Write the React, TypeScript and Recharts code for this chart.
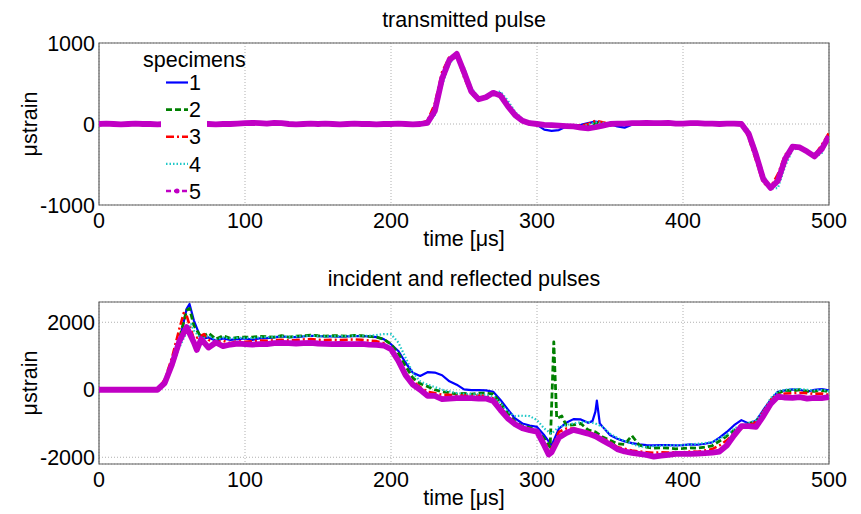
import React from 'react';
import { LineChart, Line, XAxis, YAxis, CartesianGrid, ReferenceArea } from 'recharts';

// sample times [us], 5 us steps
const timeGrid = [
  0, 5, 10, 15, 20, 25, 30, 35, 40, 45,
  50, 55, 60, 65, 70, 75, 80, 85, 90, 95,
  100, 105, 110, 115, 120, 125, 130, 135, 140, 145,
  150, 155, 160, 165, 170, 175, 180, 185, 190, 195,
  200, 205, 210, 215, 220, 225, 230, 235, 240, 245,
  250, 255, 260, 265, 270, 275, 280, 285, 290, 295,
  300, 305, 310, 315, 320, 325, 330, 335, 340, 345,
  350, 355, 360, 365, 370, 375, 380, 385, 390, 395,
  400, 405, 410, 415, 420, 425, 430, 435, 440, 445,
  450, 455, 460, 465, 470, 475, 480, 485, 490, 495,
  500,
];

const specimens = ['1', '2', '3', '4', '5'];
const xTicks = [0, 100, 200, 300, 400, 500];
const topYTicks = [-1000, 0, 1000];
const bottomYTicks = [-2000, 0, 2000];

// transmitted pulse, one array per specimen
const trans1 = [
  0, 0, 5, 0, -5, 0, 0, 5, 0, 0,
  0, 0, 5, 0, 0, -5, 0, 5, 0, 0,
  5, 10, 10, 5, 10, 5, 0, 0, 5, 0,
  0, 0, 5, 0, 0, 0, 5, 0, 0, 5,
  0, 0, 0, 0, 0, 10, 120, 520, 770, 860,
  680, 420, 310, 325, 380, 380, 240, 120, 40, 5,
  -10, -70, -85, -75, -30, -20, -10, 10, 30, 15,
  0, -30, -45, -10, 5, 10, 10, 10, 10, 5,
  5, 5, 10, 5, 5, 5, 0, 0, 0, -130,
  -400, -700, -800, -680, -420, -280, -290, -340, -400, -320,
  -150,
];
const trans2 = [
  0, 0, 0, 5, 0, 0, -5, 0, 0, 0,
  0, 5, 0, 0, 0, 0, 0, 5, 0, 0,
  5, 10, 5, 5, 10, 5, 0, 0, 5, 0,
  0, 5, 0, 0, 0, 0, 0, 5, 0, 0,
  0, 0, 0, 0, 0, 20, 170, 570, 800, 860,
  660, 410, 310, 330, 390, 370, 230, 110, 40, 10,
  0, -10, -20, -25, -30, -35, -40, -20, 10, 10,
  0, 5, 5, 10, 10, 10, 10, 10, 10, 5,
  5, 5, 10, 5, 5, 5, 0, 0, 0, -140,
  -410, -700, -790, -680, -420, -280, -290, -340, -400, -300,
  -140,
];
const trans3 = [
  0, 5, 0, 0, 0, 0, 5, 0, 0, 0,
  0, 0, 0, 5, 0, 0, 0, 0, 5, 0,
  10, 10, 5, 10, 10, 5, 0, 0, 0, 5,
  0, 0, 0, 5, 0, 0, 0, 0, 0, 5,
  0, 0, 5, 0, 10, 40, 250, 640, 830, 855,
  580, 370, 300, 340, 400, 330, 200, 90, 30, 5,
  0, -10, -20, -25, -20, -20, -20, 0, 40, 20,
  5, 5, 10, 10, 10, 10, 10, 10, 15, 5,
  5, 10, 10, 5, 5, 5, 5, 10, 0, -170,
  -450, -730, -780, -620, -380, -280, -300, -350, -390, -260,
  -110,
];
const trans4 = [
  0, 0, 5, 0, 0, 0, 0, 0, 5, 0,
  0, 0, 0, 0, 5, 0, 0, 0, 0, 0,
  5, 10, 5, 10, 5, 5, 0, 0, 0, 0,
  0, 0, 5, 0, 0, 0, 0, 0, 0, 0,
  0, 0, 0, 0, 0, 5, 110, 480, 740, 860,
  700, 450, 320, 330, 390, 400, 290, 150, 60, 10,
  0, -10, -20, -25, -30, -35, -30, -10, 20, 15,
  5, 5, 10, 10, 10, 10, 10, 10, 10, 5,
  5, 5, 10, 5, 5, 5, 0, 0, 10, -80,
  -320, -620, -800, -790, -520, -320, -290, -350, -420, -360,
  -170,
];
const trans5 = [
  0, 5, 0, -5, 0, 5, 0, 0, -5, 0,
  0, 5, 0, 0, 5, 0, -5, 0, 0, 5,
  10, 15, 10, 5, 15, 10, 0, -5, 0, 5,
  0, 5, 0, -5, 0, 5, 0, 0, -5, 0,
  0, 5, 0, -5, 0, 15, 160, 560, 790, 865,
  640, 400, 305, 330, 385, 350, 220, 110, 40, 10,
  0, -10, -15, -20, -25, -30, -45, -55, -40, -20,
  0, 5, 5, 10, 10, 15, 10, 10, 15, 5,
  5, 10, 10, 5, 5, 0, 5, 5, 0, -120,
  -380, -680, -790, -700, -430, -280, -290, -340, -400, -310,
  -150,
];

// incident and reflected pulses
const inc1 = [
  0, 0, 0, 0, 0, 0, 0, 0, 0, 200,
  700, 1400, 2400, 2050, 1500, 1550, 1450, 1520, 1480, 1500,
  1520, 1480, 1520, 1530, 1550, 1580, 1560, 1560, 1580, 1600,
  1590, 1580, 1580, 1570, 1580, 1590, 1590, 1580, 1560, 1500,
  1350, 1150, 800, 500, 410, 520, 510, 430, 250, 150,
  10, -10, -10, -20, -60, -300, -580, -850, -1000, -1060,
  -1100, -1350, -1650, -1150, -980, -870, -880, -980, -650, -1100,
  -1340, -1450, -1530, -1580, -1620, -1640, -1650, -1640, -1640, -1650,
  -1640, -1620, -1630, -1600, -1560, -1420, -1250, -1050, -900, -1000,
  -920, -600, -300, -60, -20, 10, 0, -60, 0, 20,
  -20,
];
const inc1ExtraT = [62, 338, 341, 343];
const inc1ExtraV = [2540, -930, -320, -1000];

const inc2 = [
  0, 0, 0, 0, 0, 0, 0, 0, 0, 220,
  800, 1500, 2350, 1900, 1550, 1680, 1500, 1600, 1520, 1550,
  1560, 1560, 1580, 1570, 1560, 1600, 1560, 1590, 1600, 1620,
  1600, 1590, 1600, 1600, 1590, 1610, 1600, 1580, 1560, 1500,
  1350, 1080, 700, 350, 180, 100, 0, -60, -90, -130,
  -110, -130, -100, -100, -120, -400, -700, -950, -1080, -1120,
  -1200, -1450, -500, -820, -1050, -1040, -1000, -1190, -1250, -1400,
  -1500, -1600, -1620, -1360, -1640, -1700, -1730, -1720, -1730, -1750,
  -1740, -1720, -1730, -1700, -1660, -1520, -1370, -1200, -1100, -1000,
  -950, -700, -350, -100, -20, -30, 0, -40, -50, -20,
  -60,
];
const inc2ExtraT = [62, 309, 311.5, 313.5, 317];
const inc2ExtraV = [2410, -1700, 1420, -850, -780];

const inc3 = [
  0, 0, 0, 0, 0, 0, 0, 0, 0, 300,
  950, 1800, 2200, 1500, 1600, 1480, 1400, 1450, 1380, 1440,
  1420, 1440, 1460, 1450, 1470, 1480, 1460, 1470, 1490, 1500,
  1480, 1470, 1480, 1470, 1480, 1490, 1480, 1460, 1440, 1380,
  1200, 900, 480, 250, 80, -60, -100, -150, -150, -180,
  -160, -180, -170, -180, -250, -500, -800, -1000, -1150, -1200,
  -1250, -1600, -1750, -1250, -1150, -1150, -1200, -1250, -1330, -1450,
  -1550, -1700, -1750, -1800, -1830, -1850, -1870, -1850, -1860, -1850,
  -1850, -1830, -1840, -1800, -1760, -1650, -1500, -1300, -1150, -1050,
  -950, -650, -300, -150, -110, -100, -90, -100, -120, -110,
  -150,
];
const inc3ExtraT = [58, 72];
const inc3ExtraV = [2270, 1650];

const inc4 = [
  0, 0, 0, 0, 0, 0, 0, 0, 0, 200,
  650, 1250, 1700, 1750, 1500, 1600, 1480, 1550, 1520, 1540,
  1540, 1530, 1550, 1560, 1570, 1580, 1570, 1580, 1590, 1600,
  1590, 1580, 1590, 1590, 1590, 1600, 1600, 1600, 1620, 1650,
  1650, 1400, 950, 500, 250, 150, 80, 0, -50, -100,
  -120, -130, -140, -150, -200, -400, -650, -780, -770, -780,
  -900, -1150, -1300, -1100, -1050, -1000, -960, -950, -1000, -1100,
  -1300, -1430, -1520, -1600, -1680, -1690, -1670, -1660, -1650, -1650,
  -1640, -1620, -1600, -1580, -1550, -1450, -1330, -1150, -1050, -980,
  -900, -650, -250, -50, 0, 20, 20, 0, -20, 0,
  -40,
];
const inc4ExtraT = [63];
const inc4ExtraV = [1950];

const inc5 = [
  0, 0, 0, 0, 0, 0, 0, 0, 0, 200,
  750, 1430, 1860, 1400, 1500, 1250, 1400, 1290, 1340, 1370,
  1350, 1340, 1350, 1350, 1380, 1390, 1380, 1370, 1380, 1390,
  1370, 1360, 1350, 1360, 1350, 1350, 1360, 1340, 1330, 1310,
  1200, 860, 430, 150, 0, -180, -180, -280, -260, -250,
  -250, -250, -260, -260, -330, -600, -850, -1020, -1140, -1200,
  -1240, -1650, -1850, -1420, -1280, -1190, -1240, -1300, -1380, -1500,
  -1620, -1760, -1830, -1870, -1900, -1930, -1980, -1950, -1930, -1900,
  -1900, -1900, -1890, -1880, -1860, -1830, -1650, -1350, -1080, -1080,
  -1100, -780, -420, -200, -230, -240, -220, -260, -240, -250,
  -220,
];
const inc5ExtraT = [67, 308];
const inc5ExtraV = [1180, -1920];

function toPoints(vals: number[], extraT: number[] = [], extraV: number[] = []) {
  const pts = timeGrid.map((t, i) => ({ t, v: vals[i] }));
  extraT.forEach((t, i) => pts.push({ t, v: extraV[i] }));
  return pts.sort((a, b) => a.t - b.t);
}

const FONT = '"Liberation Sans", Arial, Helvetica, sans-serif';
const FS = 21.5;

const styles = [
  { color: '#0000ff', width: 2.2, dash: undefined },
  { color: '#008000', width: 2.8, dash: '6 3' },
  { color: '#ff0000', width: 2.6, dash: '8 3 2 3' },
  { color: '#20c8c8', width: 2.2, dash: '1.5 2' },
  { color: '#c000c4', width: 5.8, dash: undefined },
];

const topSeries = [
  toPoints(trans1), toPoints(trans2), toPoints(trans3), toPoints(trans4), toPoints(trans5),
];
const bottomSeries = [
  toPoints(inc1, inc1ExtraT, inc1ExtraV),
  toPoints(inc2, inc2ExtraT, inc2ExtraV),
  toPoints(inc3, inc3ExtraT, inc3ExtraV),
  toPoints(inc4, inc4ExtraT, inc4ExtraV),
  toPoints(inc5, inc5ExtraT, inc5ExtraV),
];

function Panel({ series, domain, yTicks }: { series: { t: number; v: number }[][]; domain: [number, number]; yTicks: number[] }) {
  return (
    <LineChart width={861} height={255} margin={{ top: 43, right: 32, left: 39, bottom: 0 }}>
      <CartesianGrid stroke="#b0b0b0" strokeDasharray="1 2" />
      <XAxis
        dataKey="t"
        type="number"
        domain={[0, 500]}
        ticks={xTicks}
        height={50}
        axisLine={false}
        tickLine={false}
        tickSize={0}
        tickMargin={8}
        tick={{ fill: '#000', fontSize: FS, fontFamily: FONT }}
        allowDataOverflow
      />
      <YAxis
        type="number"
        domain={domain}
        ticks={yTicks}
        width={60}
        axisLine={false}
        tickLine={false}
        tickSize={0}
        tickMargin={4}
        tick={{ fill: '#000', fontSize: FS, fontFamily: FONT }}
        allowDataOverflow
      />
      {series.map((data, i) => (
        <Line
          key={i}
          data={data}
          dataKey="v"
          type="linear"
          stroke={styles[i].color}
          strokeWidth={styles[i].width}
          strokeDasharray={styles[i].dash}
          strokeLinejoin="round"
          dot={false}
          activeDot={false}
          isAnimationActive={false}
        />
      ))}
      <ReferenceArea x1={0} x2={500} y1={domain[0]} y2={domain[1]} fill="none" stroke="#606060" strokeWidth={1.2} ifOverflow="visible" />
    </LineChart>
  );
}

export default function App() {
  const legendTop = 82.5;
  const legendStep = 27.1;
  return (
    <div style={{ position: 'absolute', left: 0, top: 0, width: 861, height: 514, background: '#fff', fontFamily: FONT }}>
      <div style={{ position: 'absolute', left: 0, top: 0 }}>
        <Panel series={topSeries} domain={[-1000, 1000]} yTicks={topYTicks} />
      </div>
      <div style={{ position: 'absolute', left: 0, top: 259 }}>
        <Panel series={bottomSeries} domain={[-2200, 2600]} yTicks={bottomYTicks} />
      </div>
      <svg width={861} height={514} style={{ position: 'absolute', left: 0, top: 0, pointerEvents: 'none' }}>
        <g fontFamily={FONT} fontSize={FS} fill="#000">
          <text x={464} y={27} textAnchor="middle">transmitted pulse</text>
          <text x={464} y={286} textAnchor="middle">incident and reflected pulses</text>
          <text x={464} y={246} textAnchor="middle">time [μs]</text>
          <text x={464} y={505} textAnchor="middle">time [μs]</text>
          <text transform="translate(37,124) rotate(-90)" textAnchor="middle">μstrain</text>
          <text transform="translate(37,383) rotate(-90)" textAnchor="middle">μstrain</text>
        </g>
        {/* legend */}
        <rect x={161} y={72} width={46} height={130} fill="#fff" />
        <text x={143} y={67} fontFamily={FONT} fontSize={FS}>specimens</text>
        {specimens.map((s, i) => {
          const cy = legendTop + legendStep * i;
          const st = styles[i];
          return (
            <g key={s}>
              <line x1={166} x2={188} y1={cy} y2={cy} stroke={st.color} strokeWidth={i === 4 ? 2.5 : st.width}
                strokeDasharray={i === 4 ? '5 3' : st.dash} />
              {i === 4 && <circle cx={177} cy={cy} r={2.5} fill={st.color} />}
              <text x={189} y={cy + 7.7} fontFamily={FONT} fontSize={FS}>{s}</text>
            </g>
          );
        })}
      </svg>
    </div>
  );
}
